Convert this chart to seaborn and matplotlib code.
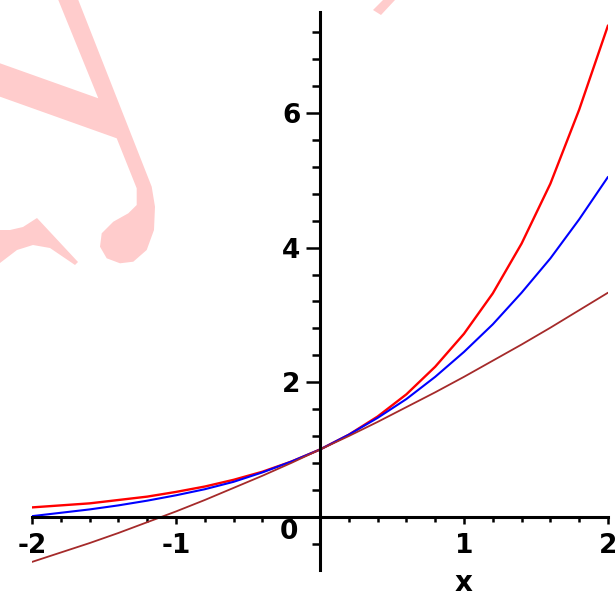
import matplotlib
matplotlib.use("Agg")
import matplotlib.pyplot as plt
from matplotlib.patches import Polygon
from matplotlib.ticker import MultipleLocator, FixedLocator, FixedFormatter
import seaborn as sns
import pandas as pd

# ---- data ----
x_vals = [-2.0, -1.8, -1.6, -1.4, -1.2, -1.0, -0.8, -0.6, -0.4, -0.2, 0.0,
          0.2, 0.4, 0.6, 0.8, 1.0, 1.2, 1.4, 1.6, 1.8, 2.0]
red_vals = [0.14, 0.17, 0.20, 0.25, 0.30, 0.37, 0.45, 0.55, 0.67, 0.82, 1.00,
            1.22, 1.49, 1.82, 2.23, 2.72, 3.32, 4.06, 4.95, 6.05, 7.30]
blue_vals = [0.01, 0.06, 0.11, 0.17, 0.24, 0.32, 0.41, 0.52, 0.66, 0.82, 1.00,
             1.22, 1.47, 1.75, 2.08, 2.45, 2.86, 3.33, 3.84, 4.42, 5.05]
brown_vals = [-0.67, -0.53, -0.39, -0.24, -0.08, 0.08, 0.25, 0.43, 0.61, 0.80, 1.00,
              1.20, 1.41, 1.63, 1.85, 2.08, 2.32, 2.56, 2.81, 3.07, 3.33]
series_names = ["red", "blue", "brown"]
series_colors = ["#ff0000", "#0000ff", "#a52a2a"]
x_tick_vals = [-2, -1, 0, 1, 2]
x_tick_labels = ["-2", "-1", "", "1", "2"]
y_tick_vals = [0, 2, 4, 6]
y_tick_labels = ["", "2", "4", "6"]
axis_label = "x"

df = pd.DataFrame({
    "x": x_vals * 3,
    "y": red_vals + blue_vals + brown_vals,
    "s": [series_names[0]] * len(x_vals) + [series_names[1]] * len(x_vals)
         + [series_names[2]] * len(x_vals),
})

sns.set_style("white")
plt.rcParams["font.family"] = ["DejaVu Sans"]
plt.rcParams["axes.unicode_minus"] = False

W, H = 615, 595
fig = plt.figure(figsize=(W / 100, H / 100), dpi=100)
fig.patch.set_facecolor("white")

# light pink watermark (decoration), pixel coords from top-left
def px(pts):
    return [(x / W, 1 - y / H) for x, y in pts]

wm = "#ffcccc"
shapes = [
    [(58.3, 0), (98.3, 98.3), (0, 63.3), (0, 96.7), (116.7, 138.3), (136.7, 188.3),
     (136.7, 205), (128.3, 213.3), (113.3, 221.7), (101.7, 233.3), (100, 246.7),
     (106.7, 258.3), (120, 263.3), (133.3, 261.7), (146.7, 250), (154, 230),
     (155, 206.7), (151.7, 186.7), (78.3, 0)],
    [(0, 230), (10, 230), (23, 227), (37, 218), (78, 262), (75, 265), (50, 248),
     (33, 245), (17, 250), (0, 263)],
    [(373, 10), (381, 15), (395, 0), (383, 0)],
]
for s in shapes:
    fig.patches.append(Polygon(px(s), closed=True, transform=fig.transFigure,
                               facecolor=wm, edgecolor="none", zorder=-5))

ax = fig.add_axes([32 / W, 25 / H, 576 / W, 558 / H])
ax.set_facecolor("none")

sns.lineplot(data=df, x="x", y="y", hue="s", palette=series_colors,
             hue_order=series_names, legend=False, ax=ax, sort=False,
             estimator=None)
for line, lw in zip(ax.lines, [1.7, 1.5, 1.3]):
    line.set_linewidth(lw)
    line.set_zorder(2)

ax.set_xlim(-2, 2)
ax.set_ylim(-0.79, 7.5)

for side in ["top", "right"]:
    ax.spines[side].set_visible(False)
ax.spines["left"].set_position(("data", 0))
ax.spines["bottom"].set_position(("data", 0))
for side in ["left", "bottom"]:
    ax.spines[side].set_linewidth(2.2)
    ax.spines[side].set_color("black")
    ax.spines[side].set_zorder(5)

ax.xaxis.set_major_locator(FixedLocator(x_tick_vals))
ax.xaxis.set_major_formatter(FixedFormatter(x_tick_labels))
ax.xaxis.set_minor_locator(MultipleLocator(0.2))
ax.yaxis.set_major_locator(FixedLocator(y_tick_vals))
ax.yaxis.set_major_formatter(FixedFormatter(y_tick_labels))
ax.yaxis.set_minor_locator(MultipleLocator(0.4))

ax.tick_params(which="both", bottom=True, left=True, top=False, right=False)
ax.tick_params(axis="x", which="major", direction="out", length=5, width=1.8,
               pad=7, labelsize=19, color="black", labelcolor="black")
ax.tick_params(axis="x", which="minor", direction="out", length=3.5, width=1.8,
               color="black")
ax.tick_params(axis="y", which="major", direction="out", length=10, width=1.8,
               pad=4, labelsize=19, color="black", labelcolor="black")
ax.tick_params(axis="y", which="minor", direction="out", length=5.5, width=1.8,
               color="black")
for lab in ax.get_xticklabels() + ax.get_yticklabels():
    lab.set_fontweight("bold")

ax.set_xlabel("")
ax.set_ylabel("")
ax.annotate("0", xy=(0, 0), xytext=(-31, -15), textcoords="offset pixels",
            ha="center", va="center", fontsize=19, fontweight="bold",
            color="black")
ax.annotate(axis_label, xy=(1, 0), xytext=(0, -66), textcoords="offset pixels",
            ha="center", va="center", fontsize=20, fontweight="bold",
            color="black")

fig.savefig("out.png", dpi=100, facecolor="white")
